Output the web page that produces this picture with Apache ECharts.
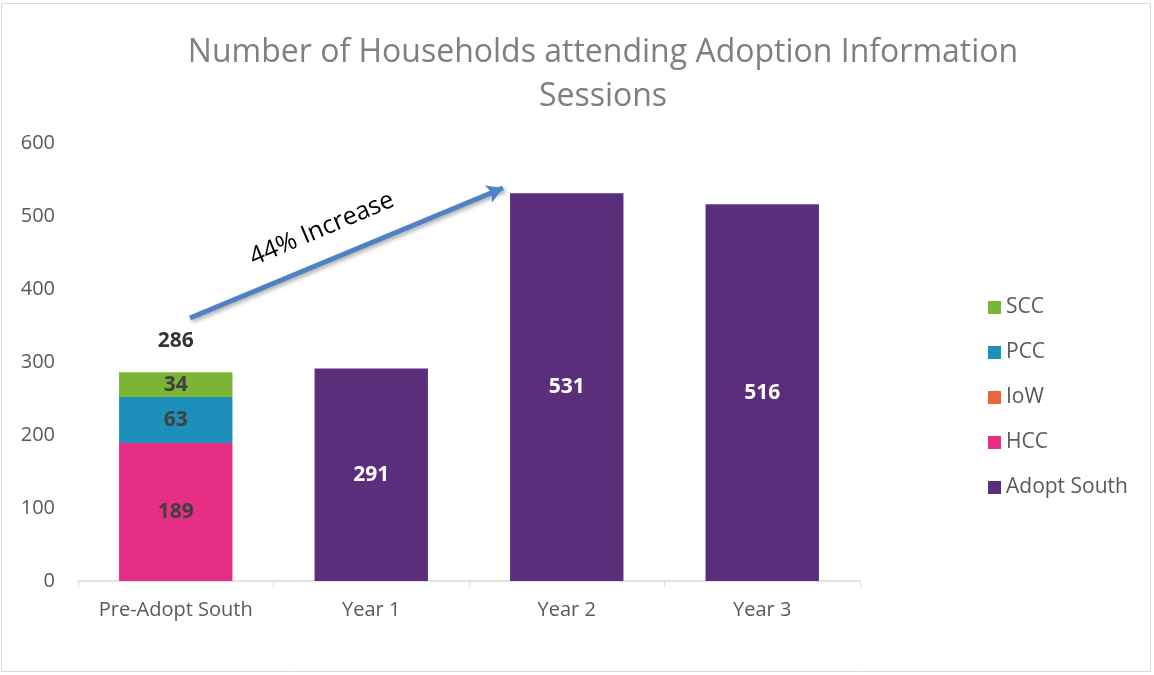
<!DOCTYPE html>
<html>
<head>
<meta charset="utf-8">
<script src="https://cdn.jsdelivr.net/npm/echarts@6/dist/echarts.min.js"></script>
<style>
html,body{margin:0;padding:0;background:#fff;}
#chart{width:1154px;height:675px;}
</style>
</head>
<body>
<div id="chart"></div>
<script>
const categories = ['Pre-Adopt South', 'Year 1', 'Year 2', 'Year 3'];
const hcc = [189, null, null, null];
const iow = [0, null, null, null];
const pcc = [63, null, null, null];
const scc = [34, null, null, null];
const adoptSouth = [null, 291, 531, 516];
const totals = [286, null, null, null];
const yTicks = { min: 0, max: 600, interval: 100 };
const titleLines = ['Number of Households attending Adoption Information', 'Sessions'];
const annotationText = '44% Increase';

const chart = echarts.init(document.getElementById('chart'));
const FONT = 'Open Sans';
const inLabel = (color) => ({
  show: true, position: 'inside', color: color, fontFamily: FONT,
  fontWeight: 'bold', fontSize: 21,
  formatter: p => (p.value ? String(p.value) : '')
});
function bar(name, data, color, lblColor) {
  return {
    name, type: 'bar', stack: 'total', data, barCategoryGap: '42%',
    itemStyle: { color }, label: inLabel(lblColor)
  };
}
const option = {
  backgroundColor: '#fff',
  animation: false,
  title: {
    text: titleLines.join('\n'),
    left: 598, top: 26, textAlign: 'center',
    textStyle: { color: '#7f7f7f', fontFamily: FONT, fontWeight: 'normal', fontSize: 32, lineHeight: 44, align: 'center' }
  },
  legend: {
    orient: 'vertical', left: 983, top: 290, itemGap: 20,
    itemWidth: 13, itemHeight: 13, icon: 'rect',
    data: ['SCC', 'PCC', 'IoW', 'HCC', 'Adopt South'],
    textStyle: { color: '#595959', fontFamily: FONT, fontSize: 21, lineHeight: 25 }
  },
  grid: { left: 78, right: 294, top: 143, bottom: 94, containLabel: false },
  xAxis: {
    type: 'category', data: categories,
    axisLine: { lineStyle: { color: '#d9d9d9', width: 1.5 } },
    axisTick: { show: true, length: 6, lineStyle: { color: '#d9d9d9' } },
    axisLabel: { color: '#595959', fontFamily: FONT, fontSize: 20, margin: 19, interval: 0 }
  },
  yAxis: {
    type: 'value', min: yTicks.min, max: yTicks.max, interval: yTicks.interval,
    axisLine: { show: false }, axisTick: { show: false }, splitLine: { show: false },
    axisLabel: { color: '#595959', fontFamily: FONT, fontSize: 20, margin: 23 }
  },
  series: [
    bar('HCC', hcc, '#e72e85', '#404040'),
    bar('IoW', iow, '#e8673f', '#404040'),
    bar('PCC', pcc, '#1c8fba', '#404040'),
    bar('SCC', scc, '#7ab536', '#404040'),
    Object.assign(bar('Adopt South', adoptSouth, '#5b2e7c', '#ffffff'), {
      markLine: {
        silent: true, symbol: ['none', 'arrow'], symbolSize: [14, 16],
        label: { show: false },
        lineStyle: { color: '#4f81c5', width: 5, type: 'solid',
          shadowColor: 'rgba(0,0,0,0.35)', shadowBlur: 4, shadowOffsetX: 2, shadowOffsetY: 2 },
        data: [[{ x: 190, y: 318 }, { x: 503, y: 188 }]]
      }
    }),
    {
      name: 'Total', type: 'scatter', data: totals, symbolSize: 0,
      label: { show: true, position: 'top', distance: 21, color: '#000', fontFamily: FONT,
        fontWeight: 'bold', fontSize: 21, formatter: p => (p.value ? String(p.value) : '') }
    }
  ],
  graphic: [
    { type: 'rect', shape: { x: 1.5, y: 3.5, width: 1149, height: 668 }, style: { fill: 'none', stroke: '#d9d9d9', lineWidth: 1 }, z: -1 },
    { type: 'text', x: 322, y: 229, rotation: 0.40,
      style: { text: annotationText, fill: '#000', font: '25px "Open Sans"', textAlign: 'center', textVerticalAlign: 'middle' } }
  ]
};
chart.setOption(option);
</script>
</body>
</html>
